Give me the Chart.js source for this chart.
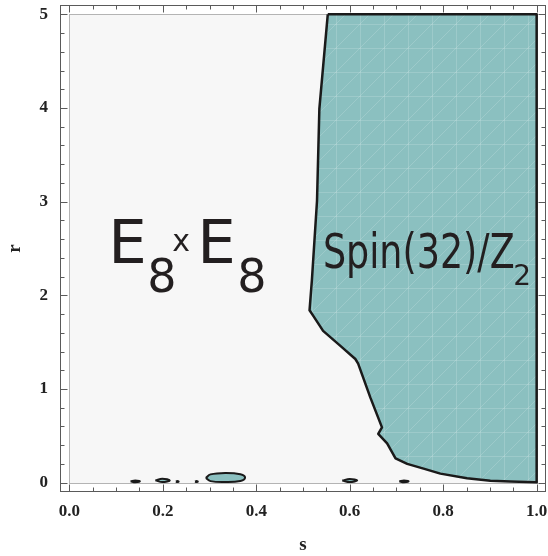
<!DOCTYPE html>
<html>
<head>
<meta charset="utf-8">
<script src="https://cdn.jsdelivr.net/npm/chart.js@4.4.1/dist/chart.umd.min.js"></script>
<style>
  html, body { margin: 0; padding: 0; background: #fff; }
</style>
</head>
<body>
<canvas id="phase-chart" width="548" height="556"></canvas>
<script>
// Axis ranges (Mathematica style padding around 0..1 x 0..5)
const sRange = [-0.02, 1.02];
const rRange = [-0.1, 5.1];
const sTicks = [0, 0.2, 0.4, 0.6, 0.8, 1.0];
const rTicks = [0, 1, 2, 3, 4, 5];
const plotS = [0, 1];
const plotR = [0, 5];

// Boundary of the Spin(32)/Z2 region
const boundaryS = [0.553, 0.535, 0.530, 0.519, 0.514, 0.522, 0.543, 0.580, 0.612, 0.618, 0.644, 0.669, 0.661, 0.680, 0.698, 0.723, 0.758, 0.794, 0.851, 0.901, 0.944, 1.0, 1.0, 0.553];
const boundaryR = [5.0, 3.99, 3.01, 2.16, 1.84, 1.78, 1.62, 1.46, 1.32, 1.27, 0.91, 0.59, 0.52, 0.42, 0.26, 0.20, 0.15, 0.096, 0.046, 0.021, 0.011, 0.003, 5.0, 5.0];

// Small islands near r = 0
const islandBigS = [0.292, 0.302, 0.334, 0.366, 0.376, 0.366, 0.334, 0.302, 0.292];
const islandBigR = [0.050, 0.088, 0.104, 0.090, 0.055, 0.018, 0.006, 0.016, 0.050];
const island2S = [0.184, 0.199, 0.215, 0.199, 0.184];
const island2R = [0.024, 0.042, 0.024, 0.006, 0.024];
const island1S = [0.131, 0.141, 0.151, 0.141, 0.131];
const island1R = [0.014, 0.024, 0.014, 0.004, 0.014];
const island3S = [0.584, 0.600, 0.616, 0.600, 0.584];
const island3R = [0.022, 0.038, 0.022, 0.006, 0.022];
const island4S = [0.706, 0.716, 0.726, 0.716, 0.706];
const island4R = [0.014, 0.024, 0.014, 0.004, 0.014];
const dot1S = [0.228, 0.231, 0.234, 0.231, 0.228];
const dot1R = [0.012, 0.018, 0.012, 0.006, 0.012];
const dot2S = [0.269, 0.272, 0.275, 0.272, 0.269];
const dot2R = [0.012, 0.018, 0.012, 0.006, 0.012];

// Region labels (data anchors)
const labelLeft = { s: 0.094, r: 2.35 };
const labelRight = { s: 0.5475, r: 2.296 };

const tealColor = '#8bc0c0';

function toPoints(xs, ys) {
    return xs.map((x, i) => ({ x: x, y: ys[i] }));
}

function meshPattern() {
    const c = document.createElement('canvas');
    c.width = 48; c.height = 48;
    const g = c.getContext('2d');
    g.fillStyle = tealColor;
    g.fillRect(0, 0, 48, 48);
    g.strokeStyle = 'rgba(255,255,255,0.16)';
    g.lineWidth = 1;
    g.beginPath();
    g.moveTo(0.5, 0); g.lineTo(0.5, 48);
    g.moveTo(0, 0.5); g.lineTo(48, 0.5);
    g.moveTo(24.5, 0); g.lineTo(24.5, 48);
    g.moveTo(0, 24.5); g.lineTo(48, 24.5);
    g.moveTo(0, 48); g.lineTo(48, 0);
    g.moveTo(0, 24); g.lineTo(24, 0);
    g.moveTo(24, 48); g.lineTo(48, 24);
    g.stroke();
    return g.createPattern(c, 'repeat');
}

function regionDataset(xs, ys, fillColor, width, tension) {
    return {
        data: toPoints(xs, ys),
        showLine: true,
        fill: 'shape',
        backgroundColor: fillColor,
        borderColor: '#1a1a1a',
        borderWidth: width,
        borderJoinStyle: 'round',
        tension: tension,
        pointRadius: 0
    };
}

// Frame, plot background, inward ticks and region labels
const framePlugin = {
    id: 'frame',
    beforeDatasetsDraw(chart) {
        const ctx = chart.ctx;
        const xs = chart.scales.x, ys = chart.scales.y;
        const x0 = Math.round(xs.getPixelForValue(plotS[0])) + 0.5;
        const x1 = Math.round(xs.getPixelForValue(plotS[1])) + 0.5;
        const y0 = Math.round(ys.getPixelForValue(plotR[1])) + 0.5;
        const y1 = Math.round(ys.getPixelForValue(plotR[0])) + 0.5;
        ctx.save();
        ctx.fillStyle = '#f7f7f7';
        ctx.fillRect(x0, y0, x1 - x0, y1 - y0);
        ctx.strokeStyle = '#b4b4b4';
        ctx.lineWidth = 1;
        ctx.strokeRect(x0, y0, x1 - x0, y1 - y0);
        ctx.restore();
    },
    afterDatasetsDraw(chart) {
        const ctx = chart.ctx;
        const a = chart.chartArea;
        const xs = chart.scales.x, ys = chart.scales.y;
        const L = Math.round(a.left) + 0.5, R = Math.round(a.right) - 0.5;
        const T = Math.round(a.top) + 0.5, B = Math.round(a.bottom) - 0.5;
        ctx.save();
        ctx.strokeStyle = '#5a5a5a';
        ctx.lineWidth = 1;
        ctx.strokeRect(L, T, R - L, B - T);
        ctx.beginPath();
        // s ticks (major every 0.2, minor every 0.05)
        for (let i = 0; i <= 20; i++) {
            const v = i * 0.05;
            const len = i % 4 === 0 ? 7 : 4;
            const px = Math.round(xs.getPixelForValue(v)) + 0.5;
            ctx.moveTo(px, B); ctx.lineTo(px, B - len);
            ctx.moveTo(px, T); ctx.lineTo(px, T + len);
        }
        // r ticks (major every 1, minor every 0.2)
        for (let i = 0; i <= 25; i++) {
            const v = i * 0.2;
            const len = i % 5 === 0 ? 7 : 4;
            const py = Math.round(ys.getPixelForValue(v)) + 0.5;
            ctx.moveTo(L, py); ctx.lineTo(L + len, py);
            ctx.moveTo(R, py); ctx.lineTo(R - len, py);
        }
        ctx.stroke();

        // region labels
        ctx.fillStyle = '#231f20';
        ctx.textBaseline = 'alphabetic';
        ctx.textAlign = 'left';
        const put = (txt, font, inkLeft, base) => {
            ctx.font = font;
            const m = ctx.measureText(txt);
            ctx.fillText(txt, inkLeft + m.actualBoundingBoxLeft, base);
        };
        const lx = xs.getPixelForValue(labelLeft.s);
        const ly = ys.getPixelForValue(labelLeft.r);
        put('E', '61px "DejaVu Sans"', lx, ly);
        put('8', '46px "DejaVu Sans"', lx + 37, ly + 29);
        put('x', '30px "DejaVu Sans"', lx + 59, ly - 12);
        put('E', '61px "DejaVu Sans"', lx + 89, ly);
        put('8', '46px "DejaVu Sans"', lx + 127, ly + 29);

        const rx = xs.getPixelForValue(labelRight.s);
        const ry = ys.getPixelForValue(labelRight.r);
        ctx.font = '48px "DejaVu Sans"';
        const main = 'Spin(32)/Z';
        const m = ctx.measureText(main);
        const inkW = m.actualBoundingBoxLeft + m.actualBoundingBoxRight;
        const k = 188 / inkW;
        ctx.save();
        ctx.translate(rx, ry);
        ctx.scale(k, 1);
        ctx.fillText(main, m.actualBoundingBoxLeft, 0);
        ctx.restore();
        put('2', '28px "DejaVu Sans"', rx + 190, ry + 17);
        ctx.restore();
    }
};

const ctx = document.getElementById('phase-chart').getContext('2d');
const tickFont = { family: '"Liberation Serif", "Times New Roman", serif', size: 17, weight: 'bold' };
const titleFont = { family: '"Liberation Serif", "Times New Roman", serif', size: 19, weight: 'bold' };

const phaseChart = new Chart(ctx, {
    type: 'scatter',
    data: {
        datasets: [
            regionDataset(boundaryS, boundaryR, meshPattern(), 2.5, 0),
            regionDataset(islandBigS, islandBigR, tealColor, 2, 0.4),
            regionDataset(island2S, island2R, tealColor, 2, 0.4),
            regionDataset(island1S, island1R, '#1a1a1a', 2, 0.4),
            regionDataset(island3S, island3R, tealColor, 2, 0.4),
            regionDataset(island4S, island4R, '#1a1a1a', 2, 0.4),
            regionDataset(dot1S, dot1R, '#1a1a1a', 2, 0.4),
            regionDataset(dot2S, dot2R, '#1a1a1a', 2, 0.4)
        ]
    },
    options: {
        responsive: false,
        animation: false,
        layout: { padding: { top: 5, right: 2, left: 0, bottom: 0 } },
        plugins: {
            legend: { display: false },
            tooltip: { enabled: false }
        },
        scales: {
            x: {
                type: 'linear',
                min: sRange[0],
                max: sRange[1],
                grid: { display: false, drawTicks: false, tickLength: 0 },
                border: { display: false },
                afterBuildTicks: scale => { scale.ticks = sTicks.map(v => ({ value: v })); },
                afterFit: scale => { scale.height = 64; scale.paddingLeft = 0; scale.paddingRight = 0; },
                ticks: {
                    font: tickFont,
                    color: '#222',
                    padding: 9,
                    maxRotation: 0,
                    callback: v => v.toFixed(1)
                },
                title: { display: true, text: 's', font: titleFont, color: '#222', padding: { top: 0, bottom: 0 } }
            },
            y: {
                type: 'linear',
                min: rRange[0],
                max: rRange[1],
                grid: { display: false, drawTicks: false, tickLength: 0 },
                border: { display: false },
                afterBuildTicks: scale => { scale.ticks = rTicks.map(v => ({ value: v })); },
                afterFit: scale => { scale.width = 60; scale.paddingTop = 0; scale.paddingBottom = 0; },
                ticks: {
                    font: tickFont,
                    color: '#222',
                    padding: 12,
                    callback: v => String(v)
                },
                title: { display: true, text: 'r', font: titleFont, color: '#222', padding: { top: 4, bottom: 0 } }
            }
        }
    },
    plugins: [framePlugin]
});
</script>
</body>
</html>
